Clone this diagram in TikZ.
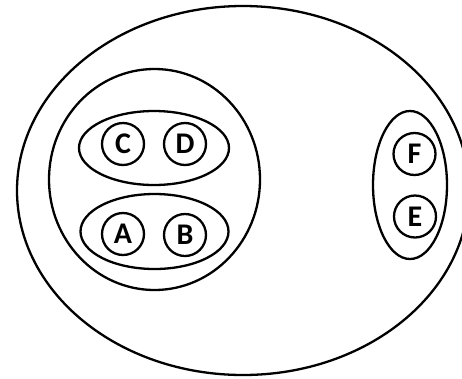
\documentclass[tikz,border=0pt]{standalone}
\usepackage{fontspec}
\setmainfont{Carlito}
\usetikzlibrary{shapes.geometric}
\begin{document}
\begin{tikzpicture}[x=1pt,y=-1pt,
  set/.style={draw, ellipse, line width=2.3pt, inner sep=0pt},
  elem/.style={draw, circle, line width=2.3pt, inner sep=0pt, minimum size=42pt, font=\fontsize{30}{30}\selectfont\bfseries}]
\path[use as bounding box, fill=white] (0,0) rectangle (462,378);
\clip (0,0) rectangle (462,378);
\node[set, minimum width=452pt, minimum height=369pt] (U) at (243,190.5) {};
\node[set, minimum width=211pt, minimum height=221pt] (G) at (154.5,179.5) {};
\node[set, minimum width=150pt, minimum height=74pt] (CD) at (154,148) {};
\node[set, minimum width=148pt, minimum height=75pt] (AB) at (154.5,231.5) {};
\node[set, minimum width=74pt, minimum height=148pt] (FE) at (410,185) {};
\node[elem] (C) at (123,144) {C};
\node[elem] (D) at (185,144) {D};
\node[elem] (A) at (123,234) {A};
\node[elem] (B) at (185,235) {B};
\node[elem] (F) at (414.5,154) {F};
\node[elem] (E) at (415,216.5) {E};
\end{tikzpicture}
\end{document}
